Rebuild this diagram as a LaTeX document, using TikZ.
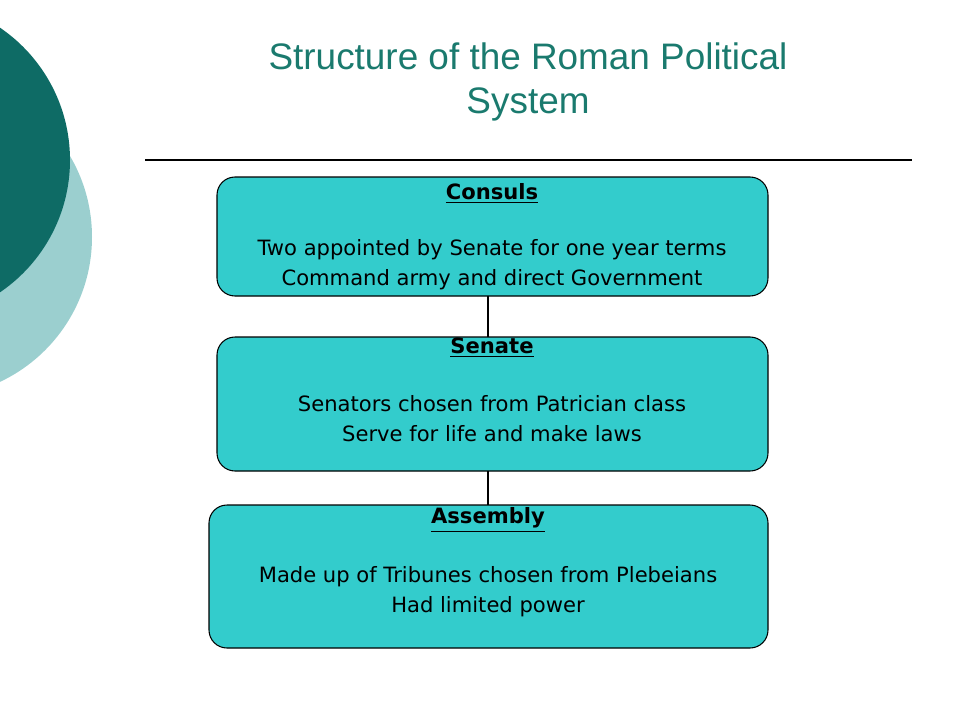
\documentclass[tikz,border=0pt]{standalone}
\usepackage{fontspec}
\setmainfont{DejaVu Sans}
\newfontfamily\titlefont{Liberation Sans}
\usetikzlibrary{positioning}
\definecolor{darkteal}{HTML}{0E6B65}
\definecolor{lightteal}{HTML}{9BCFCF}
\definecolor{titleteal}{HTML}{1A7A6E}
\definecolor{boxfill}{HTML}{33CCCC}
\tikzset{
  rolebox/.style={draw=black, fill=boxfill, rounded corners=18*0.02cm, line width=0.6pt},
  roletext/.style={font=\fontsize{12}{17}\selectfont, align=center},
  link/.style={line width=1.5pt}
}
\begin{document}
\begin{tikzpicture}[x=0.02cm, y=-0.02cm]
  \useasboundingbox (0,0) rectangle (960,720);
  % circles on the left
  \fill[lightteal] (-68,237) circle[radius=160];
  \fill[darkteal] (-90,160) circle[radius=160];
  % title
  \node[font=\titlefont\fontsize{21}{25}\selectfont, text=titleteal, align=center] (title) at (528,82)
    {Structure of the Roman Political\\System};
  \coordinate (rulel) at (145,160);
  \coordinate (ruler) at (912,160);
  \draw[line width=0.6pt] (rulel) -- (ruler);
  % boxes
  \draw[rolebox] (217,177) rectangle (768,296);
  \draw[rolebox] (217,337) rectangle (768,471);
  \draw[rolebox] (209,505) rectangle (768,648);
  \coordinate (c1) at (488,296);
  \coordinate (s0) at (488,337);
  \coordinate (s1) at (488,471);
  \coordinate (a0) at (488,505);
  \draw[link] (c1) -- (s0);
  \draw[link] (s1) -- (a0);
  % texts
  \node[roletext, font=\bfseries\fontsize{12}{17}\selectfont] (consuls) at (492,193) {\underline{Consuls}};
  \node[roletext] (consulstxt) at (492,265) {Two appointed by Senate for one year terms\\Command army and direct Government};
  \node[roletext, font=\bfseries\fontsize{12}{17}\selectfont] (senate) at (492,348) {\underline{Senate}};
  \node[roletext] (senatetxt) at (492,419) {Senators chosen from Patrician class\\Serve for life and make laws};
  \node[roletext, font=\bfseries\fontsize{12}{17}\selectfont] (assembly) at (488,520) {\underline{Assembly}};
  \node[roletext] (assemblytxt) at (488,592) {Made up of Tribunes chosen from Plebeians\\Had limited power};
\end{tikzpicture}
\end{document}
